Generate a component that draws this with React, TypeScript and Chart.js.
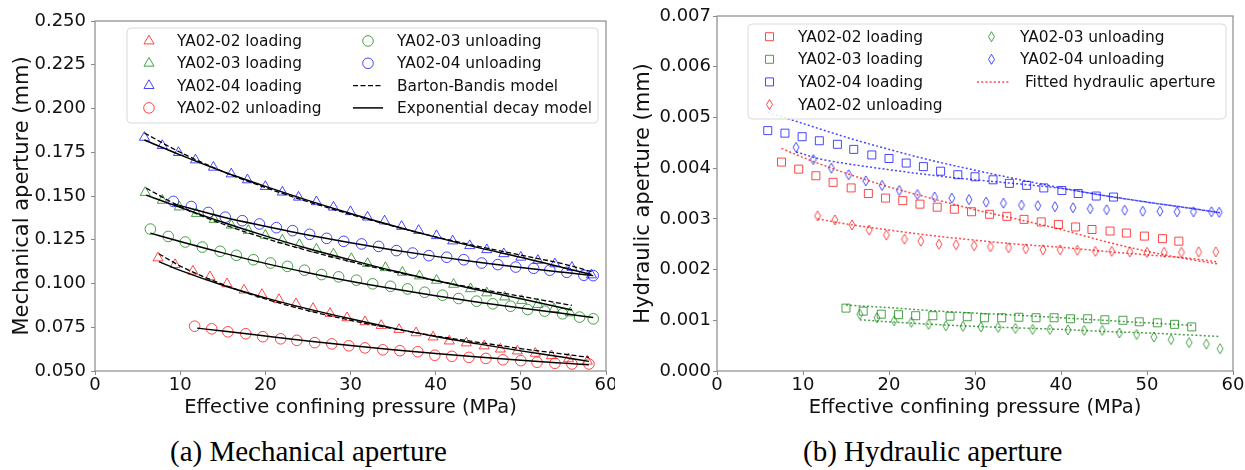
import React, { useEffect, useRef } from 'react';
import { Chart, registerables } from 'chart.js';

Chart.register(...registerables);

// ---------------- axis ticks ----------------
const pressureTicks = [0, 10, 20, 30, 40, 50, 60];
const mechTicks = [0.05, 0.075, 0.1, 0.125, 0.15, 0.175, 0.2, 0.225, 0.25];
const hydTicks = [0, 0.001, 0.002, 0.003, 0.004, 0.005, 0.006, 0.007];

// ---------------- (a) mechanical aperture, measured ----------------
const mechLoad02X = [7.4, 9.4, 11.5, 13.5, 15.5, 17.5, 19.6, 21.6, 23.6, 25.6, 27.6, 29.6, 31.7, 33.6, 35.7, 37.7, 39.7, 41.6, 43.6, 45.7, 47.6, 49.6, 51.7, 53.6, 55.6, 57.8];
const mechLoad02Y = [0.1146, 0.1108, 0.107, 0.1038, 0.0998, 0.0962, 0.0937, 0.0908, 0.0884, 0.0857, 0.0829, 0.0804, 0.0781, 0.076, 0.0737, 0.0718, 0.0694, 0.0671, 0.066, 0.0643, 0.0625, 0.0614, 0.0601, 0.0587, 0.0569, 0.0556];
const mechLoad03X = [5.9, 7.9, 9.9, 11.9, 14.0, 16.0, 18.0, 20.0, 22.0, 24.0, 26.0, 28.0, 30.1, 32.0, 34.1, 36.1, 38.1, 40.1, 42.1, 44.1, 46.0, 48.1, 50.1, 52.0, 53.9, 55.8];
const mechLoad03Y = [0.152, 0.1475, 0.1437, 0.14, 0.1366, 0.1333, 0.1303, 0.1275, 0.1248, 0.1222, 0.1196, 0.1168, 0.1142, 0.1114, 0.109, 0.1064, 0.1043, 0.1018, 0.0995, 0.097, 0.0946, 0.0923, 0.0903, 0.088, 0.0855, 0.0832];
const mechLoad04X = [5.8, 7.9, 9.8, 11.8, 13.9, 16.0, 17.9, 20.0, 22.0, 23.9, 26.0, 28.0, 30.0, 32.0, 34.0, 36.0, 38.0, 40.1, 42.0, 44.0, 46.0, 48.0, 50.0, 52.0, 54.0, 56.0, 58.3];
const mechLoad04Y = [0.1835, 0.1788, 0.1748, 0.1706, 0.1664, 0.1626, 0.1592, 0.1554, 0.1522, 0.1493, 0.1467, 0.1436, 0.141, 0.1379, 0.1357, 0.1326, 0.1303, 0.1273, 0.1243, 0.1216, 0.1193, 0.117, 0.115, 0.1132, 0.1112, 0.1092, 0.1049];
const mechUnload02X = [11.7, 13.7, 15.6, 17.7, 19.7, 21.8, 23.7, 25.8, 27.8, 29.8, 31.7, 33.8, 35.8, 37.9, 39.9, 41.9, 43.9, 45.9, 47.9, 50.0, 51.9, 54.0, 56.0, 58.0];
const mechUnload02Y = [0.0756, 0.0741, 0.0724, 0.0713, 0.0696, 0.0684, 0.0675, 0.0662, 0.0655, 0.0644, 0.0632, 0.0621, 0.0616, 0.061, 0.059, 0.0584, 0.0578, 0.0572, 0.0564, 0.0559, 0.055, 0.0544, 0.054, 0.054];
const mechUnload03X = [6.5, 8.6, 10.6, 12.6, 14.7, 16.6, 18.6, 20.6, 22.6, 24.6, 26.6, 28.6, 30.7, 32.6, 34.7, 36.7, 38.7, 40.8, 42.7, 44.8, 46.7, 48.8, 50.8, 52.8, 54.9, 56.9, 58.5];
const mechUnload03Y = [0.1311, 0.1269, 0.1237, 0.1208, 0.1184, 0.1161, 0.1136, 0.1117, 0.1098, 0.1076, 0.1051, 0.1038, 0.1019, 0.0998, 0.0984, 0.0969, 0.095, 0.0933, 0.0914, 0.0899, 0.0884, 0.087, 0.0851, 0.0842, 0.0827, 0.0808, 0.0798];
const mechUnload04X = [9.2, 11.3, 13.3, 15.3, 17.3, 19.3, 21.3, 23.2, 25.2, 27.2, 29.2, 31.3, 33.3, 35.4, 37.3, 39.2, 41.3, 43.3, 45.4, 47.3, 49.4, 51.5, 53.4, 55.4, 57.4, 58.5];
const mechUnload04Y = [0.1469, 0.144, 0.1406, 0.1379, 0.1359, 0.134, 0.1319, 0.1302, 0.1281, 0.1258, 0.1241, 0.1226, 0.1212, 0.1188, 0.1174, 0.1159, 0.115, 0.1136, 0.1117, 0.1108, 0.1094, 0.1087, 0.1076, 0.1064, 0.1047, 0.1045];

// ---------------- (a) model curves ----------------
const modelLoad02X = [7.5, 10, 15, 20, 25, 30, 35, 40, 45, 50, 55, 58];
const bbLoad02Y = [0.117, 0.11, 0.0995, 0.0912, 0.0845, 0.079, 0.0742, 0.07, 0.0664, 0.0628, 0.0597, 0.0578];
const expLoad02Y = [0.1125, 0.1075, 0.099, 0.0918, 0.0855, 0.0798, 0.0745, 0.0697, 0.0655, 0.0615, 0.0578, 0.0555];
const modelLoad03X = [6, 10, 15, 20, 25, 30, 35, 40, 45, 50, 56];
const bbLoad03Y = [0.1545, 0.144, 0.134, 0.1258, 0.1188, 0.1125, 0.1068, 0.1017, 0.097, 0.0927, 0.0875];
const expLoad03Y = [0.1505, 0.1435, 0.135, 0.1272, 0.12, 0.1135, 0.1073, 0.1017, 0.0963, 0.0913, 0.0848];
const modelLoad04X = [5.8, 10, 15, 20, 25, 30, 35, 40, 45, 50, 55, 58.3];
const bbLoad04Y = [0.186, 0.175, 0.164, 0.1548, 0.1468, 0.1395, 0.1328, 0.1267, 0.1212, 0.1162, 0.1112, 0.1068];
const expLoad04Y = [0.182, 0.1735, 0.164, 0.1555, 0.1475, 0.14, 0.133, 0.1265, 0.1205, 0.115, 0.109, 0.1052];
const expUnload02X = [12, 15, 20, 25, 30, 35, 40, 45, 50, 55, 58];
const expUnload02Y = [0.0745, 0.0728, 0.07, 0.0672, 0.0646, 0.0622, 0.06, 0.058, 0.0562, 0.0545, 0.0535];
const expUnload03X = [6.5, 10, 15, 20, 25, 30, 35, 40, 45, 50, 55, 58.5];
const expUnload03Y = [0.1288, 0.124, 0.1175, 0.1115, 0.1062, 0.1013, 0.097, 0.093, 0.0893, 0.086, 0.0828, 0.0806];
const expUnload04X = [9.2, 15, 20, 25, 30, 35, 40, 45, 50, 55, 58.5];
const expUnload04Y = [0.1455, 0.138, 0.1327, 0.1277, 0.1233, 0.1192, 0.1155, 0.1122, 0.1092, 0.1064, 0.1045];

// ---------------- (b) hydraulic aperture, measured ----------------
const hydLoad02X = [7.5, 9.5, 11.5, 13.5, 15.6, 17.6, 19.6, 21.6, 23.6, 25.6, 27.6, 29.6, 31.7, 33.7, 35.7, 37.7, 39.7, 41.7, 43.6, 45.7, 47.6, 49.7, 51.8, 53.7];
const hydLoad02Y = [0.00412, 0.00398, 0.00385, 0.00372, 0.00361, 0.0035, 0.00341, 0.00336, 0.00329, 0.00323, 0.00319, 0.00314, 0.00309, 0.00305, 0.00299, 0.00294, 0.00289, 0.00284, 0.00279, 0.00276, 0.00272, 0.00266, 0.00261, 0.00256];
const hydLoad03X = [15.0, 17.0, 19.1, 21.1, 23.1, 25.1, 27.1, 29.1, 31.1, 33.1, 35.1, 37.1, 39.2, 41.1, 43.1, 45.1, 47.2, 49.1, 51.2, 53.2, 55.2];
const hydLoad03Y = [0.00124, 0.00118, 0.00112, 0.00111, 0.00109, 0.00109, 0.00108, 0.00107, 0.00105, 0.00105, 0.00106, 0.00105, 0.00105, 0.00103, 0.00103, 0.00101, 0.001, 0.00097, 0.00095, 0.00092, 0.00087];
const hydLoad04X = [5.9, 7.9, 9.9, 11.9, 14.0, 15.9, 18.0, 20.0, 22.0, 24.0, 26.0, 28.0, 30.0, 32.1, 34.0, 36.0, 38.0, 40.1, 42.0, 44.1, 46.1];
const hydLoad04Y = [0.00474, 0.00469, 0.00462, 0.00454, 0.00447, 0.00437, 0.00426, 0.00419, 0.0041, 0.00403, 0.00394, 0.00387, 0.00383, 0.00377, 0.0037, 0.00366, 0.00361, 0.00356, 0.0035, 0.00345, 0.00343];
const hydUnload02X = [11.7, 13.7, 15.7, 17.7, 19.7, 21.8, 23.7, 25.8, 27.8, 29.9, 31.8, 33.9, 35.9, 37.9, 39.9, 41.9, 44.0, 45.9, 48.0, 50.0, 52.0, 54.0, 56.0, 58.0];
const hydUnload02Y = [0.00306, 0.00298, 0.00288, 0.00278, 0.00268, 0.0026, 0.00256, 0.0025, 0.00249, 0.00247, 0.00245, 0.00243, 0.00241, 0.00239, 0.00239, 0.00238, 0.00236, 0.00236, 0.00235, 0.00234, 0.00234, 0.00234, 0.00235, 0.00235];
const hydUnload03X = [16.6, 18.6, 20.6, 22.6, 24.6, 26.6, 28.6, 30.7, 32.7, 34.7, 36.7, 38.7, 40.8, 42.7, 44.8, 46.8, 48.8, 50.8, 52.8, 54.9, 56.9, 58.5];
const hydUnload03Y = [0.00112, 0.00105, 0.00099, 0.00096, 0.00092, 0.00089, 0.00088, 0.00087, 0.00086, 0.00084, 0.00082, 0.00082, 0.00081, 0.0008, 0.0008, 0.00075, 0.00072, 0.00067, 0.00062, 0.00056, 0.00053, 0.00044];
const hydUnload04X = [9.2, 11.2, 13.3, 15.3, 17.3, 19.2, 21.2, 23.3, 25.3, 27.3, 29.3, 31.3, 33.3, 35.4, 37.3, 39.3, 41.4, 43.4, 45.3, 47.4, 49.5, 51.5, 53.5, 55.4, 57.5, 58.4];
const hydUnload04Y = [0.00441, 0.00417, 0.004, 0.00387, 0.00375, 0.00366, 0.00356, 0.00348, 0.00343, 0.00341, 0.00338, 0.00333, 0.00331, 0.00327, 0.00326, 0.00324, 0.00322, 0.0032, 0.00318, 0.00317, 0.00315, 0.00315, 0.00314, 0.00314, 0.00314, 0.00313];

// ---------------- (b) fitted hydraulic aperture ----------------
const fitLoad02X = [7.5, 10, 15, 20, 25, 30, 35, 40, 45, 50, 55, 58.3];
const fitLoad02Y = [0.00439, 0.00421, 0.0039, 0.00363, 0.0034, 0.00318, 0.00299, 0.00279, 0.00256, 0.00236, 0.0022, 0.00211];
const fitUnload02X = [11.7, 15, 20, 25, 30, 35, 40, 45, 50, 55, 58.3];
const fitUnload02Y = [0.003, 0.0029, 0.00278, 0.00267, 0.00258, 0.0025, 0.00244, 0.00236, 0.00229, 0.00222, 0.00215];
const fitLoad03X = [15, 20, 25, 30, 35, 40, 45, 50, 55.2];
const fitLoad03Y = [0.0013, 0.00125, 0.00119, 0.00114, 0.0011, 0.00105, 0.001, 0.00095, 0.0009];
const fitUnload03X = [16.6, 20, 25, 30, 35, 40, 45, 50, 55, 58.5];
const fitUnload03Y = [0.00101, 0.00097, 0.00092, 0.00088, 0.00085, 0.00082, 0.00078, 0.00075, 0.00071, 0.00068];
const fitLoad04X = [5.9, 10, 15, 20, 25, 30, 35, 40, 45, 50, 55, 58.5];
const fitLoad04Y = [0.0051, 0.00488, 0.00461, 0.00437, 0.00415, 0.00396, 0.00378, 0.00361, 0.00346, 0.00333, 0.00321, 0.00312];
const fitUnload04X = [9.2, 12, 15, 20, 25, 30, 35, 40, 45, 50, 55, 58.5];
const fitUnload04Y = [0.00432, 0.00418, 0.00409, 0.00397, 0.00386, 0.00377, 0.00369, 0.0036, 0.00346, 0.00333, 0.00321, 0.00312];

// ---------------- labels ----------------
const seriesNames = ['YA02-02 loading', 'YA02-03 loading', 'YA02-04 loading', 'YA02-02 unloading', 'YA02-03 unloading', 'YA02-04 unloading'];
const mechModelNames = ['Barton-Bandis model', 'Exponential decay model'];
const hydFitName = ' Fitted hydraulic aperture';

// ---------------- styling ----------------
const RED = 'rgba(255,0,0,0.72)';
const GREEN = 'rgba(0,128,0,0.72)';
const BLUE = 'rgba(0,0,255,0.72)';
const FONT = "'DejaVu Sans', sans-serif";
const TXT = '#111111';
const SPINE = '#8a8a8a';

type Pt = { x: number; y: number };
const zip = (xs: number[], ys: number[]): Pt[] => xs.map((x, i) => ({ x, y: ys[i] }));

const R_TRI = 5.8;
const R_CIRC = 5.3;
const R_RECT = 5.66;

function thinDiamond(color: string): HTMLCanvasElement {
  const c = document.createElement('canvas');
  c.width = 10;
  c.height = 14;
  const g = c.getContext('2d')!;
  g.strokeStyle = color;
  g.lineWidth = 1;
  g.beginPath();
  g.moveTo(5, 2);
  g.lineTo(8, 7);
  g.lineTo(5, 12);
  g.lineTo(2, 7);
  g.closePath();
  g.stroke();
  return c;
}

function drawMarker(ctx: CanvasRenderingContext2D, style: string, x: number, y: number, color: string) {
  ctx.save();
  ctx.strokeStyle = color;
  ctx.lineWidth = 1;
  ctx.beginPath();
  if (style === 'triangle') {
    const r = R_TRI;
    ctx.moveTo(x, y - r);
    ctx.lineTo(x + r * Math.sin((2 * Math.PI) / 3), y - r * Math.cos((2 * Math.PI) / 3));
    ctx.lineTo(x + r * Math.sin((4 * Math.PI) / 3), y - r * Math.cos((4 * Math.PI) / 3));
    ctx.closePath();
  } else if (style === 'circle') {
    ctx.arc(x, y, R_CIRC, 0, Math.PI * 2);
  } else if (style === 'rect') {
    const s = R_RECT * Math.SQRT1_2;
    ctx.rect(x - s, y - s, 2 * s, 2 * s);
  } else {
    ctx.moveTo(x, y - 5);
    ctx.lineTo(x + 3, y);
    ctx.lineTo(x, y + 5);
    ctx.lineTo(x - 3, y);
    ctx.closePath();
  }
  ctx.stroke();
  ctx.restore();
}

function pointSet(label: string, xs: number[], ys: number[], color: string, style: string) {
  let ps: any = style;
  let r = R_CIRC;
  if (style === 'triangle') r = R_TRI;
  if (style === 'rect') r = R_RECT;
  if (style === 'thin') ps = thinDiamond(color);
  return {
    label,
    data: zip(xs, ys),
    showLine: false,
    pointStyle: ps,
    pointRadius: r,
    pointBorderWidth: 1,
    pointBorderColor: color,
    pointBackgroundColor: 'rgba(0,0,0,0)',
    borderColor: color,
    backgroundColor: 'rgba(0,0,0,0)',
  };
}

function lineSet(label: string, xs: number[], ys: number[], color: string, width: number, dash: number[]) {
  return {
    label,
    data: zip(xs, ys),
    showLine: true,
    pointRadius: 0,
    borderColor: color,
    borderWidth: width,
    borderDash: dash,
    cubicInterpolationMode: 'monotone',
    fill: false,
  };
}

type LegendItem = { col: number; row: number; text: string; kind: 'point' | 'line'; style?: string; color: string; dash?: number[]; width?: number };
type LegendSpec = {
  box: { x: number; y: number; w: number; h: number };
  rowY0: number;
  rowStep: number;
  cols: { markerX: number; lineX0: number; lineX1: number; textX: number }[];
  items: LegendItem[];
};

function makeFramePlugin(spec: LegendSpec) {
  return {
    id: 'frameLegend',
    afterDraw(chart: any) {
      const ctx: CanvasRenderingContext2D = chart.ctx;
      const a = chart.chartArea;
      ctx.save();
      ctx.strokeStyle = SPINE;
      ctx.lineWidth = 1.2;
      ctx.strokeRect(a.left, a.top, a.right - a.left, a.bottom - a.top);
      // legend box
      const b = spec.box;
      const rr = 4;
      ctx.beginPath();
      ctx.moveTo(b.x + rr, b.y);
      ctx.lineTo(b.x + b.w - rr, b.y);
      ctx.quadraticCurveTo(b.x + b.w, b.y, b.x + b.w, b.y + rr);
      ctx.lineTo(b.x + b.w, b.y + b.h - rr);
      ctx.quadraticCurveTo(b.x + b.w, b.y + b.h, b.x + b.w - rr, b.y + b.h);
      ctx.lineTo(b.x + rr, b.y + b.h);
      ctx.quadraticCurveTo(b.x, b.y + b.h, b.x, b.y + b.h - rr);
      ctx.lineTo(b.x, b.y + rr);
      ctx.quadraticCurveTo(b.x, b.y, b.x + rr, b.y);
      ctx.closePath();
      ctx.fillStyle = 'rgba(255,255,255,0.85)';
      ctx.fill();
      ctx.strokeStyle = '#dadada';
      ctx.lineWidth = 1;
      ctx.stroke();
      ctx.font = `15.4px ${FONT}`;
      ctx.textBaseline = 'middle';
      ctx.textAlign = 'left';
      for (const it of spec.items) {
        const col = spec.cols[it.col];
        const y = spec.rowY0 + it.row * spec.rowStep;
        if (it.kind === 'line') {
          ctx.save();
          ctx.beginPath();
          ctx.setLineDash(it.dash || []);
          ctx.strokeStyle = it.color;
          ctx.lineWidth = it.width || 1.5;
          ctx.moveTo(col.lineX0, y);
          ctx.lineTo(col.lineX1, y);
          ctx.stroke();
          ctx.restore();
        } else {
          drawMarker(ctx, it.style || 'circle', col.markerX, y, it.color);
        }
        ctx.fillStyle = TXT;
        ctx.fillText(it.text, col.textX, y + 1);
      }
      ctx.restore();
    },
  };
}

function axisOptions(p: {
  yMin: number; yMax: number; yTicks: number[]; yTitle: string; yWidth: number; yTickPad: number; yTitlePad: number;
}) {
  return {
    x: {
      type: 'linear',
      min: 0,
      max: 60,
      afterBuildTicks: (s: any) => { s.ticks = pressureTicks.map((v) => ({ value: v })); },
      ticks: { color: TXT, font: { family: FONT, size: 18 }, padding: 0, maxRotation: 0, autoSkip: false, callback: (v: any) => String(v) },
      grid: { display: true, drawOnChartArea: false, drawTicks: true, tickLength: 4, color: SPINE, lineWidth: 1 },
      border: { display: false },
      title: { display: true, text: 'Effective confining pressure (MPa)', color: TXT, font: { family: FONT, size: 19.5 }, padding: { top: 0, bottom: 10 } },
      afterFit: (s: any) => { s.height = 59; s.paddingLeft = 0; s.paddingRight = 0; },
    },
    y: {
      type: 'linear',
      min: p.yMin,
      max: p.yMax,
      afterBuildTicks: (s: any) => { s.ticks = p.yTicks.map((v) => ({ value: v })); },
      ticks: { color: TXT, font: { family: FONT, size: 18 }, padding: p.yTickPad, autoSkip: false, callback: (v: any) => Number(v).toFixed(3) },
      grid: { display: true, drawOnChartArea: false, drawTicks: true, tickLength: 4, color: SPINE, lineWidth: 1 },
      border: { display: false },
      title: { display: true, text: p.yTitle, color: TXT, font: { family: FONT, size: 21 }, padding: { top: p.yTitlePad, bottom: 0 } },
      afterFit: (s: any) => { s.width = p.yWidth; s.paddingTop = 0; s.paddingBottom = 0; },
    },
  };
}

function mechConfig(): any {
  const datasets = [
    lineSet(mechModelNames[1], modelLoad04X, expLoad04Y, '#000', 1.5, []),
    lineSet(mechModelNames[1], modelLoad03X, expLoad03Y, '#000', 1.5, []),
    lineSet(mechModelNames[1], modelLoad02X, expLoad02Y, '#000', 1.5, []),
    lineSet(mechModelNames[1], expUnload02X, expUnload02Y, '#000', 1.5, []),
    lineSet(mechModelNames[1], expUnload03X, expUnload03Y, '#000', 1.5, []),
    lineSet(mechModelNames[1], expUnload04X, expUnload04Y, '#000', 1.5, []),
    lineSet(mechModelNames[0], modelLoad04X, bbLoad04Y, '#000', 1.3, [5, 2.5]),
    lineSet(mechModelNames[0], modelLoad03X, bbLoad03Y, '#000', 1.3, [5, 2.5]),
    lineSet(mechModelNames[0], modelLoad02X, bbLoad02Y, '#000', 1.3, [5, 2.5]),
    pointSet(seriesNames[0], mechLoad02X, mechLoad02Y, RED, 'triangle'),
    pointSet(seriesNames[1], mechLoad03X, mechLoad03Y, GREEN, 'triangle'),
    pointSet(seriesNames[2], mechLoad04X, mechLoad04Y, BLUE, 'triangle'),
    pointSet(seriesNames[3], mechUnload02X, mechUnload02Y, RED, 'circle'),
    pointSet(seriesNames[4], mechUnload03X, mechUnload03Y, GREEN, 'circle'),
    pointSet(seriesNames[5], mechUnload04X, mechUnload04Y, BLUE, 'circle'),
  ];
  const legend: LegendSpec = {
    box: { x: 127, y: 28, w: 471, h: 95 },
    rowY0: 41,
    rowStep: 22.3,
    cols: [
      { markerX: 149, lineX0: 135, lineX1: 163, textX: 177 },
      { markerX: 368, lineX0: 353, lineX1: 383, textX: 397 },
    ],
    items: [
      { col: 0, row: 0, text: seriesNames[0], kind: 'point', style: 'triangle', color: RED },
      { col: 0, row: 1, text: seriesNames[1], kind: 'point', style: 'triangle', color: GREEN },
      { col: 0, row: 2, text: seriesNames[2], kind: 'point', style: 'triangle', color: BLUE },
      { col: 0, row: 3, text: seriesNames[3], kind: 'point', style: 'circle', color: RED },
      { col: 1, row: 0, text: seriesNames[4], kind: 'point', style: 'circle', color: GREEN },
      { col: 1, row: 1, text: seriesNames[5], kind: 'point', style: 'circle', color: BLUE },
      { col: 1, row: 2, text: mechModelNames[0], kind: 'line', color: '#000', dash: [5, 2.5], width: 1.3 },
      { col: 1, row: 3, text: mechModelNames[1], kind: 'line', color: '#000', width: 1.5 },
    ],
  };
  return {
    type: 'scatter',
    data: { datasets },
    options: {
      responsive: false,
      animation: false,
      devicePixelRatio: 1,
      events: [],
      layout: { padding: { left: 0, top: 21, right: 9, bottom: 0 } },
      plugins: { legend: { display: false }, tooltip: { enabled: false } },
      scales: axisOptions({ yMin: 0.05, yMax: 0.25, yTicks: mechTicks, yTitle: 'Mechanical aperture (mm)', yWidth: 95, yTickPad: 5, yTitlePad: 10 }),
    },
    plugins: [makeFramePlugin(legend)],
  };
}

function hydConfig(): any {
  const dots = [2, 2.2];
  const datasets = [
    lineSet(hydFitName, fitLoad02X, fitLoad02Y, RED, 1.5, dots),
    lineSet(hydFitName, fitUnload02X, fitUnload02Y, RED, 1.5, dots),
    lineSet(hydFitName, fitLoad03X, fitLoad03Y, GREEN, 1.5, dots),
    lineSet(hydFitName, fitUnload03X, fitUnload03Y, GREEN, 1.5, dots),
    lineSet(hydFitName, fitLoad04X, fitLoad04Y, BLUE, 1.5, dots),
    lineSet(hydFitName, fitUnload04X, fitUnload04Y, BLUE, 1.5, dots),
    pointSet(seriesNames[0], hydLoad02X, hydLoad02Y, RED, 'rect'),
    pointSet(seriesNames[1], hydLoad03X, hydLoad03Y, GREEN, 'rect'),
    pointSet(seriesNames[2], hydLoad04X, hydLoad04Y, BLUE, 'rect'),
    pointSet(seriesNames[3], hydUnload02X, hydUnload02Y, RED, 'thin'),
    pointSet(seriesNames[4], hydUnload03X, hydUnload03Y, GREEN, 'thin'),
    pointSet(seriesNames[5], hydUnload04X, hydUnload04Y, BLUE, 'thin'),
  ];
  const legend: LegendSpec = {
    box: { x: 128, y: 24, w: 478, h: 95 },
    rowY0: 36.7,
    rowStep: 22.6,
    cols: [
      { markerX: 149.5, lineX0: 135, lineX1: 164, textX: 178 },
      { markerX: 371.5, lineX0: 357, lineX1: 388.5, textX: 400 },
    ],
    items: [
      { col: 0, row: 0, text: seriesNames[0], kind: 'point', style: 'rect', color: RED },
      { col: 0, row: 1, text: seriesNames[1], kind: 'point', style: 'rect', color: GREEN },
      { col: 0, row: 2, text: seriesNames[2], kind: 'point', style: 'rect', color: BLUE },
      { col: 0, row: 3, text: seriesNames[3], kind: 'point', style: 'thin', color: RED },
      { col: 1, row: 0, text: seriesNames[4], kind: 'point', style: 'thin', color: GREEN },
      { col: 1, row: 1, text: seriesNames[5], kind: 'point', style: 'thin', color: BLUE },
      { col: 1, row: 2, text: hydFitName, kind: 'line', color: RED, dash: dots, width: 1.5 },
    ],
  };
  return {
    type: 'scatter',
    data: { datasets },
    options: {
      responsive: false,
      animation: false,
      devicePixelRatio: 1,
      events: [],
      layout: { padding: { left: 0, top: 16, right: 12, bottom: 0 } },
      plugins: { legend: { display: false }, tooltip: { enabled: false } },
      scales: axisOptions({ yMin: 0, yMax: 0.007, yTicks: hydTicks, yTitle: 'Hydraulic aperture (mm)', yWidth: 97, yTickPad: 2, yTitlePad: 11 }),
    },
    plugins: [makeFramePlugin(legend)],
  };
}

function ChartCanvas(props: { make: () => any; left: number; width: number; height: number }) {
  const ref = useRef<HTMLCanvasElement | null>(null);
  useEffect(() => {
    const chart = new Chart(ref.current as HTMLCanvasElement, props.make());
    return () => chart.destroy();
  }, []);
  return (
    <canvas
      ref={ref}
      width={props.width}
      height={props.height}
      style={{ position: 'absolute', left: props.left, top: 0, width: props.width, height: props.height }}
    />
  );
}

export default function App() {
  const caption: React.CSSProperties = {
    position: 'absolute',
    top: 437,
    fontFamily: "'Liberation Serif', 'Times New Roman', serif",
    fontSize: 29,
    lineHeight: '29px',
    color: '#000',
    whiteSpace: 'nowrap',
  };
  return (
    <div style={{ position: 'fixed', left: 0, top: 0, width: 1245, height: 470, background: '#fff', overflow: 'hidden' }}>
      <ChartCanvas make={mechConfig} left={0} width={615} height={430} />
      <ChartCanvas make={hydConfig} left={620} width={625} height={430} />
      <div style={{ ...caption, left: 170 }}>(a) Mechanical aperture</div>
      <div style={{ ...caption, left: 803 }}>(b) Hydraulic aperture</div>
    </div>
  );
}
